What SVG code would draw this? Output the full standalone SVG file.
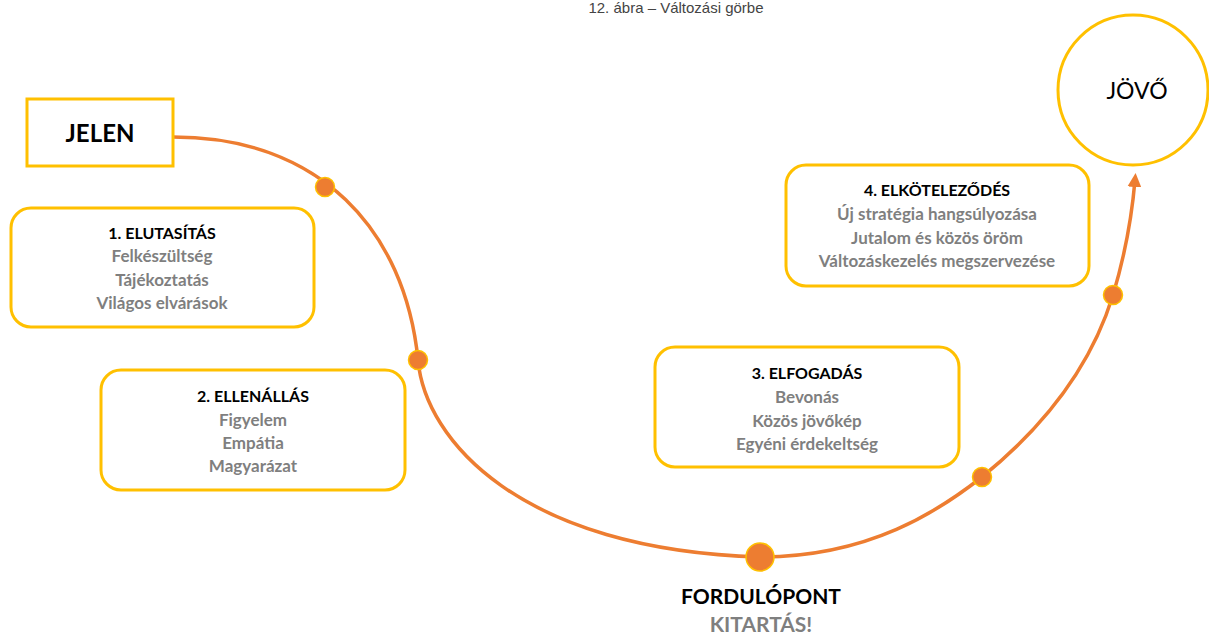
<svg xmlns="http://www.w3.org/2000/svg" width="1209" height="635" viewBox="0 0 1209 635">
<style>
.box{fill:#fff;stroke:#FFC000;stroke-width:3}
.ttl{font-family:Lato,"Open Sans",sans-serif;font-weight:bold;font-size:16px;fill:#000;text-anchor:middle}
.itm{font-family:Lato,"Open Sans",sans-serif;font-weight:bold;font-size:17px;fill:#7f7f7f;text-anchor:middle}
.dot{fill:#ED7D31;stroke:#FFC000;stroke-width:1.5}
.curve{fill:none;stroke:#ED7D31;stroke-width:3.5}
</style>
<defs>
<marker id="arr" viewBox="0 0 10 10" refX="5" refY="5" markerWidth="4" markerHeight="4" orient="auto">
<path d="M0,0 L10,5 L0,10 z" fill="#ED7D31"/>
</marker>
</defs>
<rect width="1209" height="635" fill="#fff"/>
<text x="676" y="13" font-family="Liberation Sans, Arial, sans-serif" font-size="15" fill="#444" text-anchor="middle">12. ábra – Változási görbe</text>
<g id="connectors">
<path class="curve" marker-end="url(#arr)" d="M173,137 C320,137 405,230 418,360 C425,440 520,550 760,557 C870,557 940,510 982,477 C1040,430 1090,370 1113,295 C1125,255 1132,215 1135,180"/>
</g>
<g id="dots">
<circle class="dot" cx="325" cy="187" r="9.5"/>
<circle class="dot" cx="418" cy="360" r="9.5"/>
<circle class="dot" cx="760" cy="557" r="14"/>
<circle class="dot" cx="982" cy="477" r="9.5"/>
<circle class="dot" cx="1113" cy="295" r="9.5"/>
</g>
<g id="jelen">
<rect x="27" y="99" width="146" height="67" fill="#fff" stroke="#FFC000" stroke-width="3"/>
<text x="100" y="142" font-family="Lato,'Open Sans',sans-serif" font-weight="bold" font-size="24" fill="#000" text-anchor="middle">JELEN</text>
</g>
<g id="jovo">
<circle cx="1133" cy="90" r="75" fill="#fff" stroke="#FFC000" stroke-width="3"/>
<text x="1137" y="99" font-family="Lato,'Open Sans',sans-serif" font-size="23" fill="#000" text-anchor="middle">JÖVŐ</text>
</g>
<g id="s1">
<rect class="box" x="11" y="208" width="303" height="119" rx="20"/>
<text class="ttl" x="162" y="239">1. ELUTASÍTÁS</text>
<text class="itm" x="162" y="262">Felkészültség</text>
<text class="itm" x="162" y="286">Tájékoztatás</text>
<text class="itm" x="162" y="309">Világos elvárások</text>
</g>
<g id="s2">
<rect class="box" x="101" y="370" width="304" height="120" rx="20"/>
<text class="ttl" x="253" y="402">2. ELLENÁLLÁS</text>
<text class="itm" x="253" y="426">Figyelem</text>
<text class="itm" x="253" y="449">Empátia</text>
<text class="itm" x="253" y="472">Magyarázat</text>
</g>
<g id="s3">
<rect class="box" x="655" y="347" width="304" height="120" rx="20"/>
<text class="ttl" x="807" y="379">3. ELFOGADÁS</text>
<text class="itm" x="807" y="403">Bevonás</text>
<text class="itm" x="807" y="427">Közös jövőkép</text>
<text class="itm" x="807" y="450">Egyéni érdekeltség</text>
</g>
<g id="s4">
<rect class="box" x="786" y="165" width="303" height="121" rx="20"/>
<text class="ttl" x="937" y="196">4. ELKÖTELEZŐDÉS</text>
<text class="itm" x="937" y="220">Új stratégia hangsúlyozása</text>
<text class="itm" x="937" y="244">Jutalom és közös öröm</text>
<text class="itm" x="937" y="267">Változáskezelés  megszervezése</text>
</g>
<g id="turn">
<text x="761" y="604" font-family="Lato,'Open Sans',sans-serif" font-weight="bold" font-size="21" fill="#000" text-anchor="middle">FORDULÓPONT</text>
<text x="761" y="632" font-family="Lato,'Open Sans',sans-serif" font-weight="bold" font-size="21" fill="#7f7f7f" text-anchor="middle">KITARTÁS!</text>
</g>
</svg>
